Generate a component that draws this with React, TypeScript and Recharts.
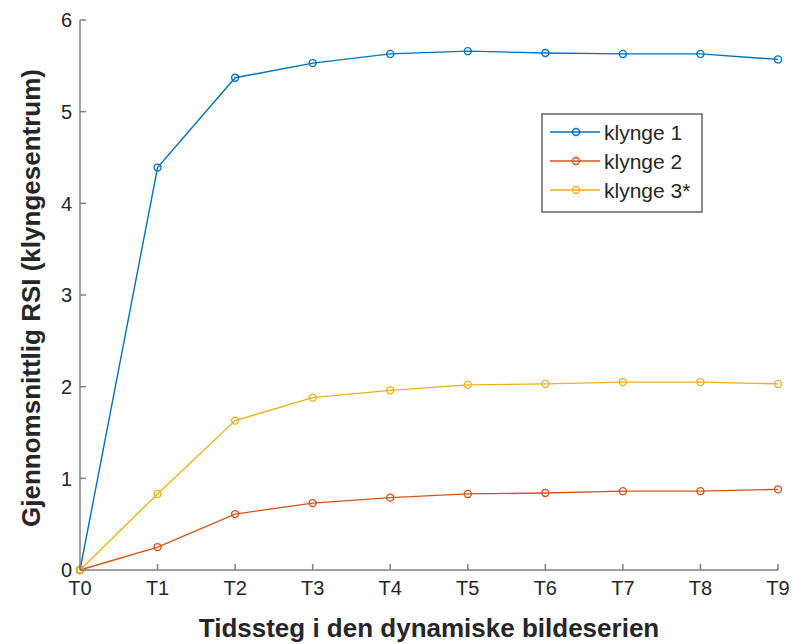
import React from 'react';
import { LineChart, Line, XAxis, YAxis, Legend } from 'recharts';

const categories = ['T0', 'T1', 'T2', 'T3', 'T4', 'T5', 'T6', 'T7', 'T8', 'T9'];
const klynge1 = [0, 4.39, 5.37, 5.53, 5.63, 5.66, 5.64, 5.63, 5.63, 5.57];
const klynge2 = [0, 0.25, 0.61, 0.73, 0.79, 0.83, 0.84, 0.86, 0.86, 0.88];
const klynge3 = [0, 0.83, 1.63, 1.88, 1.96, 2.02, 2.03, 2.05, 2.05, 2.03];
const yTicks = [0, 1, 2, 3, 4, 5, 6];

const seriesNames = ['klynge 1', 'klynge 2', 'klynge 3*'];
const colors = ['#0072BD', '#D95319', '#EDB120'];

const data = categories.map((t, i) => ({
  t,
  k1: klynge1[i],
  k2: klynge2[i],
  k3: klynge3[i],
}));

const AXIS = '#808080';
const TEXT = '#262626';
const FONT = '"Liberation Sans", Arial, Helvetica, sans-serif';
const TICK_LEN = 6;

const BottomTick = (props: any) => {
  const { x, y, payload } = props;
  return (
    <g>
      <line x1={x} x2={x} y1={y} y2={y - TICK_LEN} stroke={AXIS} strokeWidth={1.5} />
      <text x={x} y={y + 25} textAnchor="middle" fill={TEXT} fontSize={20} fontFamily={FONT}>
        {payload.value}
      </text>
    </g>
  );
};

const TopTick = (props: any) => {
  const { x, y } = props;
  return <line x1={x} x2={x} y1={y} y2={y + TICK_LEN} stroke={AXIS} strokeWidth={1.5} />;
};

const LeftTick = (props: any) => {
  const { x, y, payload } = props;
  return (
    <g>
      <line x1={x} x2={x + TICK_LEN} y1={y} y2={y} stroke={AXIS} strokeWidth={1.5} />
      <text x={x - 8} y={y} dy="0.36em" textAnchor="end" fill={TEXT} fontSize={20} fontFamily={FONT}>
        {payload.value}
      </text>
    </g>
  );
};

const RightTick = (props: any) => {
  const { x, y } = props;
  return <line x1={x} x2={x - TICK_LEN} y1={y} y2={y} stroke={AXIS} strokeWidth={1.5} />;
};

const YLabel = (props: any) => {
  const { viewBox } = props;
  const cy = viewBox.y + viewBox.height / 2 + 3;
  const cx = 40;
  return (
    <text
      x={cx}
      y={cy}
      transform={`rotate(-90, ${cx}, ${cy})`}
      textAnchor="middle"
      fill={TEXT}
      fontSize={26}
      fontWeight="bold"
      fontFamily={FONT}
    >
      Gjennomsnittlig RSI (klyngesentrum)
    </text>
  );
};

const XLabel = (props: any) => {
  const { viewBox } = props;
  const cx = viewBox.x + viewBox.width / 2;
  return (
    <text x={cx} y={637} textAnchor="middle" fill={TEXT} fontSize={26} fontWeight="bold" fontFamily={FONT}>
      Tidssteg i den dynamiske bildeserien
    </text>
  );
};

const LegendBox = () => (
  <svg width={162} height={100} style={{ display: 'block' }}>
    <rect x={1} y={1} width={160} height={98} fill="#fff" stroke="#6e6e6e" strokeWidth={1.6} />
    {seriesNames.map((name, i) => {
      const cy = 19 + i * 29;
      return (
        <g key={name}>
          <line x1={9} x2={59} y1={cy} y2={cy} stroke={colors[i]} strokeWidth={1.4} />
          <circle cx={35} cy={cy} r={3.5} fill="none" stroke={colors[i]} strokeWidth={1.4} />
          <text x={63} y={cy} dy="0.36em" fill={TEXT} fontSize={21} fontFamily={FONT}>
            {name}
          </text>
        </g>
      );
    })}
  </svg>
);

export default function App() {
  return (
    <div style={{ position: 'absolute', left: 0, top: 0, width: 792, height: 644, background: '#fff' }}>
      <LineChart width={792} height={644} data={data} margin={{ top: 20, right: 14, bottom: 0, left: 0 }}>
        <XAxis
          dataKey="t"
          height={74}
          tickSize={0}
          tickMargin={0}
          axisLine={{ stroke: AXIS, strokeWidth: 1.5 }}
          tickLine={false}
          tick={<BottomTick />}
          interval={0}
          padding={{ left: 0, right: 0 }}
          label={<XLabel />}
        />
        <XAxis
          xAxisId="top"
          dataKey="t"
          orientation="top"
          height={0}
          tickSize={0}
          tickMargin={0}
          axisLine={{ stroke: AXIS, strokeWidth: 1.5 }}
          tickLine={false}
          tick={<TopTick />}
          interval={0}
          padding={{ left: 0, right: 0 }}
        />
        <YAxis
          width={80}
          domain={[0, 6]}
          ticks={yTicks}
          type="number"
          tickSize={0}
          tickMargin={0}
          axisLine={{ stroke: AXIS, strokeWidth: 1.5 }}
          tickLine={false}
          tick={<LeftTick />}
          interval={0}
          label={<YLabel />}
        />
        <YAxis
          yAxisId="right"
          orientation="right"
          width={0}
          domain={[0, 6]}
          ticks={yTicks}
          type="number"
          tickSize={0}
          tickMargin={0}
          axisLine={{ stroke: AXIS, strokeWidth: 1.5 }}
          tickLine={false}
          tick={<RightTick />}
          interval={0}
        />
        <Legend
          layout="vertical"
          align="center"
          verticalAlign="middle"
          content={<LegendBox />}
          wrapperStyle={{ left: 541, top: 113, width: 162, height: 100 }}
        />
        {(['k1', 'k2', 'k3'] as const).map((key, i) => (
          <Line
            key={key}
            dataKey={key}
            name={seriesNames[i]}
            stroke={colors[i]}
            strokeWidth={1.4}
            dot={{ r: 3.5, fill: 'none', stroke: colors[i], strokeWidth: 1.4 }}
            activeDot={false}
            isAnimationActive={false}
          />
        ))}
      </LineChart>
    </div>
  );
}
